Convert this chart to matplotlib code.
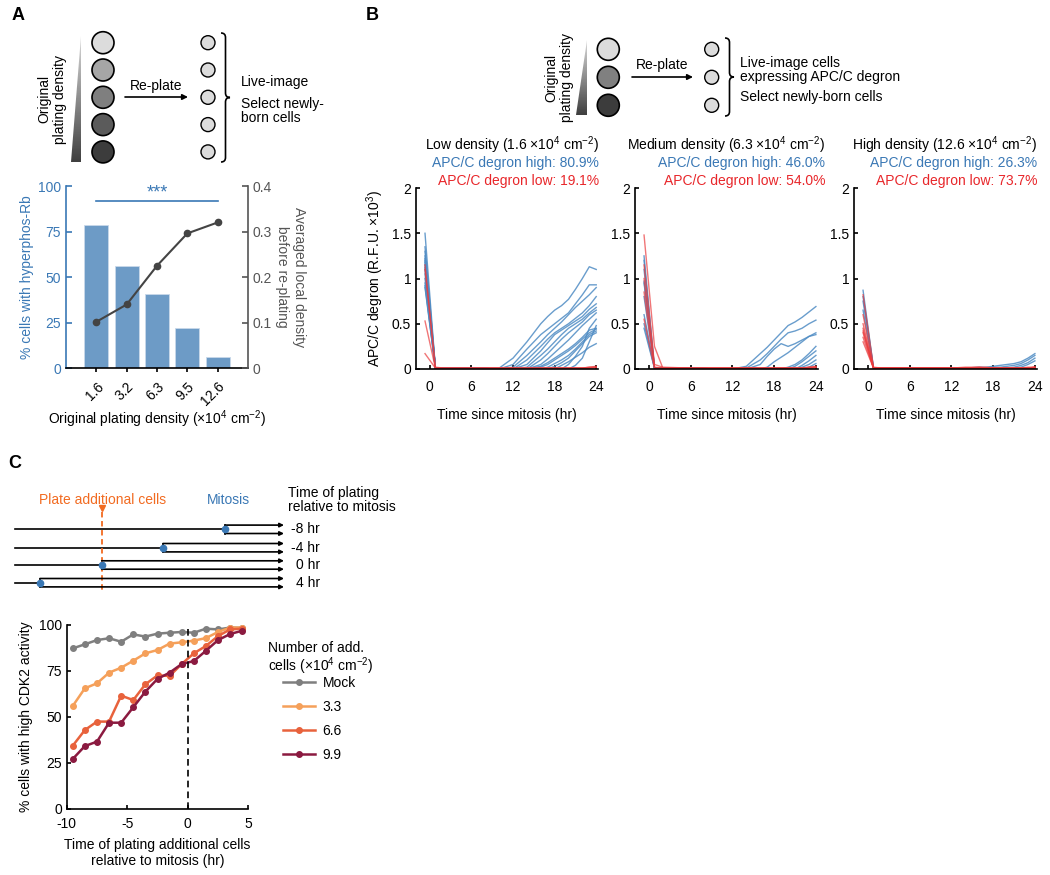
import numpy as np
import matplotlib.pyplot as plt
from matplotlib.patches import Circle, Polygon, PathPatch
from matplotlib.path import Path

plt.rcParams['font.family'] = ['Liberation Sans', 'DejaVu Sans']
plt.rcParams['mathtext.fontset'] = 'custom'
plt.rcParams['mathtext.rm'] = 'Liberation Sans'
plt.rcParams['mathtext.default'] = 'regular'
plt.rcParams['axes.unicode_minus'] = False
plt.rcParams['font.size'] = 10
plt.rcParams['axes.linewidth'] = 1.2

FS = 10

# ---- panel A data ----
densities = ['1.6', '3.2', '6.3', '9.5', '12.6']
pct_hyperphos = [78.6, 56.3, 40.6, 21.9, 6.2]
local_density = [0.102, 0.140, 0.225, 0.296, 0.320]

# ---- panel B data (APC/C degron traces, R.F.U. x10^3) ----
t_hr = [-0.7, 0.8, 2, 6, 10, 12, 14, 16, 17, 18, 19, 20, 21, 22, 23, 24]

low_high = [
    [1.50, 0.01, 0.01, 0.01, 0.01, 0.12, 0.30, 0.50, 0.58, 0.65, 0.70, 0.77, 0.88, 1.00, 1.13, 1.10],
    [1.35, 0.01, 0.01, 0.01, 0.00, 0.05, 0.22, 0.38, 0.44, 0.50, 0.56, 0.62, 0.72, 0.82, 0.93, 0.93],
    [1.20, 0.01, 0.01, 0.01, 0.00, 0.02, 0.15, 0.30, 0.38, 0.45, 0.52, 0.60, 0.68, 0.75, 0.82, 0.90],
    [1.10, 0.01, 0.01, 0.01, 0.00, 0.00, 0.10, 0.25, 0.33, 0.40, 0.45, 0.50, 0.56, 0.62, 0.70, 0.80],
    [0.95, 0.01, 0.01, 0.01, 0.00, 0.00, 0.05, 0.20, 0.29, 0.38, 0.43, 0.48, 0.53, 0.58, 0.66, 0.72],
    [0.90, 0.01, 0.01, 0.01, 0.00, 0.00, 0.02, 0.15, 0.22, 0.30, 0.38, 0.45, 0.50, 0.55, 0.62, 0.68],
    [1.25, 0.01, 0.01, 0.01, 0.00, 0.00, 0.00, 0.10, 0.17, 0.25, 0.33, 0.40, 0.46, 0.52, 0.60, 0.65],
    [1.05, 0.01, 0.01, 0.01, 0.00, 0.00, 0.00, 0.05, 0.11, 0.18, 0.25, 0.32, 0.40, 0.48, 0.55, 0.62],
    [1.15, 0.01, 0.01, 0.01, 0.00, 0.00, 0.00, 0.03, 0.07, 0.12, 0.17, 0.22, 0.28, 0.35, 0.43, 0.45],
    [1.00, 0.01, 0.01, 0.01, 0.00, 0.00, 0.00, 0.02, 0.05, 0.10, 0.15, 0.20, 0.26, 0.33, 0.40, 0.44],
    [1.30, 0.01, 0.01, 0.01, 0.00, 0.00, 0.00, 0.00, 0.02, 0.06, 0.10, 0.15, 0.22, 0.30, 0.38, 0.42],
    [0.92, 0.01, 0.01, 0.01, 0.00, 0.00, 0.00, 0.00, 0.00, 0.03, 0.07, 0.12, 0.20, 0.28, 0.36, 0.40],
    [1.18, 0.01, 0.01, 0.01, 0.00, 0.00, 0.00, 0.00, 0.00, 0.00, 0.04, 0.08, 0.13, 0.18, 0.24, 0.28],
    [1.22, 0.01, 0.01, 0.01, 0.00, 0.00, 0.00, 0.00, 0.00, 0.00, 0.00, 0.05, 0.14, 0.25, 0.45, 0.55],
    [1.12, 0.01, 0.01, 0.01, 0.00, 0.00, 0.00, 0.00, 0.00, 0.00, 0.00, 0.00, 0.04, 0.12, 0.30, 0.48],
]
low_low = [
    [1.15, 0.01, 0.01, 0.01, 0.01, 0.01, 0.01, 0.01, 0.01, 0.01, 0.01, 0.01, 0.01, 0.01, 0.02, 0.03],
    [1.10, 0.02, 0.01, 0.01, 0.01, 0.01, 0.01, 0.01, 0.01, 0.01, 0.01, 0.01, 0.01, 0.01, 0.01, 0.02],
    [0.53, 0.01, 0.01, 0.01, 0.01, 0.01, 0.01, 0.01, 0.01, 0.01, 0.01, 0.01, 0.01, 0.01, 0.01, 0.01],
    [0.17, 0.01, 0.01, 0.01, 0.01, 0.01, 0.01, 0.01, 0.01, 0.01, 0.01, 0.01, 0.01, 0.01, 0.02, 0.02],
]
med_high = [
    [1.25, 0.01, 0.01, 0.01, 0.00, 0.00, 0.03, 0.17, 0.24, 0.32, 0.40, 0.48, 0.52, 0.57, 0.63, 0.69],
    [1.20, 0.01, 0.01, 0.01, 0.00, 0.00, 0.01, 0.10, 0.17, 0.25, 0.33, 0.40, 0.42, 0.45, 0.50, 0.54],
    [0.97, 0.01, 0.01, 0.01, 0.00, 0.00, 0.00, 0.05, 0.14, 0.22, 0.28, 0.25, 0.28, 0.32, 0.36, 0.38],
    [0.95, 0.01, 0.01, 0.01, 0.00, 0.00, 0.00, 0.00, 0.02, 0.08, 0.13, 0.18, 0.24, 0.30, 0.36, 0.40],
    [0.50, 0.01, 0.01, 0.01, 0.00, 0.00, 0.00, 0.00, 0.00, 0.00, 0.00, 0.02, 0.05, 0.10, 0.17, 0.25],
    [0.45, 0.01, 0.01, 0.01, 0.00, 0.00, 0.00, 0.00, 0.00, 0.00, 0.00, 0.00, 0.03, 0.08, 0.14, 0.20],
    [1.10, 0.01, 0.01, 0.01, 0.00, 0.00, 0.00, 0.00, 0.00, 0.00, 0.00, 0.00, 0.00, 0.04, 0.09, 0.15],
    [0.80, 0.01, 0.01, 0.01, 0.00, 0.00, 0.00, 0.00, 0.00, 0.00, 0.00, 0.00, 0.00, 0.02, 0.05, 0.10],
    [0.60, 0.01, 0.01, 0.01, 0.00, 0.00, 0.00, 0.00, 0.00, 0.00, 0.00, 0.00, 0.00, 0.00, 0.02, 0.06],
]
med_low = [
    [1.48, 0.25, 0.01, 0.01, 0.01, 0.01, 0.01, 0.01, 0.01, 0.01, 0.01, 0.01, 0.01, 0.01, 0.02, 0.03],
    [1.15, 0.05, 0.02, 0.01, 0.01, 0.01, 0.01, 0.01, 0.01, 0.01, 0.01, 0.01, 0.01, 0.01, 0.01, 0.02],
    [0.85, 0.01, 0.01, 0.01, 0.01, 0.01, 0.01, 0.01, 0.01, 0.01, 0.01, 0.01, 0.01, 0.01, 0.01, 0.02],
    [0.55, 0.01, 0.01, 0.01, 0.01, 0.01, 0.01, 0.01, 0.01, 0.01, 0.01, 0.01, 0.01, 0.01, 0.01, 0.01],
    [1.00, 0.02, 0.01, 0.01, 0.01, 0.01, 0.01, 0.01, 0.01, 0.01, 0.01, 0.01, 0.01, 0.01, 0.02, 0.02],
]
dense_high = [
    [0.87, 0.01, 0.01, 0.01, 0.01, 0.01, 0.01, 0.02, 0.02, 0.03, 0.04, 0.05, 0.06, 0.08, 0.12, 0.17],
    [0.80, 0.01, 0.01, 0.01, 0.01, 0.01, 0.01, 0.01, 0.01, 0.02, 0.02, 0.03, 0.04, 0.06, 0.10, 0.15],
    [0.65, 0.01, 0.01, 0.01, 0.01, 0.01, 0.01, 0.01, 0.01, 0.01, 0.01, 0.01, 0.02, 0.04, 0.07, 0.12],
    [0.75, 0.01, 0.01, 0.01, 0.01, 0.01, 0.01, 0.01, 0.01, 0.01, 0.01, 0.01, 0.01, 0.02, 0.05, 0.09],
]
dense_low = [
    [0.82, 0.02, 0.01, 0.01, 0.01, 0.01, 0.02, 0.02, 0.02, 0.01, 0.01, 0.01, 0.01, 0.01, 0.01, 0.02],
    [0.45, 0.01, 0.01, 0.01, 0.01, 0.01, 0.01, 0.02, 0.01, 0.01, 0.01, 0.01, 0.01, 0.01, 0.01, 0.01],
    [0.42, 0.01, 0.01, 0.01, 0.01, 0.01, 0.01, 0.01, 0.01, 0.01, 0.01, 0.01, 0.01, 0.01, 0.02, 0.02],
    [0.40, 0.01, 0.01, 0.01, 0.01, 0.01, 0.01, 0.01, 0.01, 0.01, 0.01, 0.01, 0.01, 0.01, 0.01, 0.01],
    [0.35, 0.01, 0.01, 0.01, 0.01, 0.01, 0.01, 0.01, 0.01, 0.01, 0.01, 0.01, 0.01, 0.01, 0.01, 0.02],
    [0.30, 0.01, 0.01, 0.01, 0.01, 0.01, 0.01, 0.01, 0.01, 0.01, 0.01, 0.01, 0.01, 0.01, 0.01, 0.01],
    [0.60, 0.01, 0.01, 0.01, 0.01, 0.01, 0.01, 0.01, 0.01, 0.01, 0.01, 0.01, 0.01, 0.01, 0.01, 0.02],
    [0.50, 0.01, 0.01, 0.01, 0.01, 0.01, 0.01, 0.01, 0.01, 0.01, 0.01, 0.01, 0.01, 0.01, 0.01, 0.01],
]
panel_titles = ['Low density (1.6 ×10$^4$ cm$^{-2}$)',
                'Medium density (6.3 ×10$^4$ cm$^{-2}$)',
                'High density (12.6 ×10$^4$ cm$^{-2}$)']
pct_high = ['80.9%', '46.0%', '26.3%']
pct_low = ['19.1%', '54.0%', '73.7%']

# ---- panel C data ----
plating_time = [-9.5, -8.5, -7.5, -6.5, -5.5, -4.5, -3.5, -2.5, -1.5, -0.5, 0.5, 1.5, 2.5, 3.5, 4.5]
cdk2_mock = [87.3, 89.5, 91.8, 92.8, 90.9, 94.9, 93.7, 95.3, 95.8, 96.2, 95.8, 98.0, 97.6, 98.6, 98.4]
cdk2_33 = [56.0, 65.6, 68.3, 74.1, 76.8, 80.6, 84.6, 86.4, 89.9, 90.6, 91.5, 92.9, 96.2, 98.6, 98.6]
cdk2_66 = [34.4, 42.9, 47.5, 47.5, 61.6, 59.2, 67.8, 72.6, 72.3, 78.8, 84.6, 88.6, 94.0, 97.6, 98.0]
cdk2_99 = [27.2, 34.2, 36.6, 46.9, 46.9, 55.3, 63.8, 70.7, 74.1, 78.8, 80.4, 86.0, 91.8, 95.1, 96.9]
cdk2_labels = ['Mock', '3.3', '6.6', '9.9']
shift_labels = ['-8 hr', '-4 hr', '0 hr', '4 hr']
mitosis_x = [225, 163, 101.7, 40]   # schematic positions of mitosis

BLUE = '#3a78b5'
RED = '#e8262a'
ORANGE = '#f26b21'
W, H = 1050, 875


def box(l, t, r, b):
    return [l / W, 1 - b / H, (r - l) / W, (b - t) / H]


def fxy(x, y):
    return x / W, 1 - y / H


def brace(ax, x, y0, y1, w):
    ym = (y0 + y1) / 2
    h = w / 2
    verts = [(x, y0), (x + h, y0), (x + h, y0 + h), (x + h, ym - h),
             (x + h, ym), (x + w, ym), (x + h, ym), (x + h, ym + h),
             (x + h, y1 - h), (x + h, y1), (x, y1)]
    codes = [Path.MOVETO, Path.CURVE3, Path.CURVE3, Path.LINETO,
             Path.CURVE3, Path.CURVE3, Path.CURVE3, Path.CURVE3,
             Path.LINETO, Path.CURVE3, Path.CURVE3]
    ax.add_patch(PathPatch(Path(verts, codes), fill=False, lw=1.2, ec='k'))


def arrow(ax, x0, y0, x1, y1, ms=8):
    ax.annotate('', xy=(x1, y1), xytext=(x0, y0),
                arrowprops=dict(arrowstyle='-|>', mutation_scale=ms, lw=1.2,
                                color='k', shrinkA=0, shrinkB=0))


def gradient_wedge(ax, pts):
    poly = Polygon(pts, closed=True, fc='none', ec='none')
    ax.add_patch(poly)
    xs = [p[0] for p in pts]
    ys = [p[1] for p in pts]
    im = ax.imshow(np.linspace(0.85, 0.25, 100).reshape(-1, 1), cmap='gray',
                   vmin=0, vmax=1, extent=(min(xs), max(xs), max(ys), min(ys)),
                   aspect='auto')
    im.set_clip_path(poly)


fig = plt.figure(figsize=(10.5, 8.75), dpi=100)

# overlay axis in pixel coordinates for schematics
ax0 = fig.add_axes([0, 0, 1, 1])
ax0.patch.set_visible(False)

# ---------- schematic A ----------
gradient_wedge(ax0, [(71, 162), (81, 162), (81, 36)])
ax0.text(52, 99, 'Original\nplating density', rotation=90, ha='center', va='center', fontsize=FS)
big_grays = ['#dcdcdc', '#a6a6a6', '#7f7f7f', '#5b5b5b', '#3c3c3c']
for i, c in enumerate(big_grays):
    yy = 42.7 + i * 27.3
    ax0.add_patch(Circle((103, yy), 11, fc=c, ec='k', lw=1.2))
    ax0.add_patch(Circle((208, yy), 7, fc='#dcdcdc', ec='k', lw=1.0))
arrow(ax0, 125, 97, 188, 97)
ax0.text(156, 86, 'Re-plate', ha='center', va='center', fontsize=FS)
brace(ax0, 221, 33, 162, 9)
ax0.text(241, 82, 'Live-image', va='center', fontsize=FS)
ax0.text(241, 104, 'Select newly-', va='center', fontsize=FS)
ax0.text(241, 118, 'born cells', va='center', fontsize=FS)

# ---------- schematic B ----------
gradient_wedge(ax0, [(576, 115), (587, 115), (587, 40)])
ax0.text(559, 78, 'Original\nplating density', rotation=90, ha='center', va='center', fontsize=FS)
for i, c in enumerate(['#dcdcdc', '#808080', '#3c3c3c']):
    yy = 49.3 + i * 28
    ax0.add_patch(Circle((608.3, yy), 11, fc=c, ec='k', lw=1.2))
    ax0.add_patch(Circle((711.7, yy), 7, fc='#dcdcdc', ec='k', lw=1.0))
arrow(ax0, 632, 77, 693, 77)
ax0.text(662, 65, 'Re-plate', ha='center', va='center', fontsize=FS)
brace(ax0, 725, 38, 116, 9)
ax0.text(740, 63, 'Live-image cells', va='center', fontsize=FS)
ax0.text(740, 77, 'expressing APC/C degron', va='center', fontsize=FS)
ax0.text(740, 97, 'Select newly-born cells', va='center', fontsize=FS)

# ---------- schematic C ----------
rows_y = [529.3, 547.7, 565, 582.7]
for yy, sx, lab in zip(rows_y, mitosis_x, shift_labels):
    ax0.plot([15, sx], [yy, yy], color='k', lw=1.2)
    ax0.plot([sx, sx], [yy - 4.2, yy + 4.2], color='k', lw=1.2)
    arrow(ax0, sx, yy - 4.2, 284, yy - 4.2, ms=6)
    arrow(ax0, sx, yy + 4.2, 284, yy + 4.2, ms=6)
    ax0.plot(sx, yy, 'o', color=BLUE, ms=4.5, zorder=5)
    ax0.text(320, yy, lab, ha='right', va='center', fontsize=FS)
ax0.plot([101.7, 101.7], [512, 592], color=ORANGE, lw=1.3, ls=(0, (3, 2)))
ax0.plot(101.7, 508, 'v', color=ORANGE, ms=5)
ax0.text(103, 500, 'Plate additional cells', color=ORANGE, ha='center', va='center', fontsize=FS)
ax0.text(228, 500, 'Mitosis', color=BLUE, ha='center', va='center', fontsize=FS)
ax0.text(288, 493, 'Time of plating', va='center', fontsize=FS)
ax0.text(288, 507, 'relative to mitosis', va='center', fontsize=FS)

ax0.set_xlim(0, W)
ax0.set_ylim(H, 0)
ax0.axis('off')

# panel letters
fig.text(*fxy(12, 15), 'A', fontsize=13, fontweight='bold', va='center')
fig.text(*fxy(366, 15), 'B', fontsize=13, fontweight='bold', va='center')
fig.text(*fxy(8, 463), 'C', fontsize=13, fontweight='bold', va='center')

# ---------- panel A chart ----------
axA = fig.add_axes(box(66, 186, 248, 368.3))
xpos = np.arange(len(densities))
axA.bar(xpos, pct_hyperphos, width=0.8, color='#6d9bc6', edgecolor='#c9d9ea', lw=0.6)
axA.set_xlim(-1, 5)
axA.set_ylim(0, 100)
axA.set_yticks([0, 25, 50, 75, 100])
axA.set_xticks(xpos)
axA.set_xticklabels(densities, rotation=45, ha='right', rotation_mode='anchor')
axA.tick_params(axis='y', direction='in', colors=BLUE, length=4, width=1.2, labelsize=FS)
axA.tick_params(axis='x', direction='out', length=3, width=1.2, labelsize=FS, pad=5)
axA.spines['left'].set_color(BLUE)
axA.spines['top'].set_visible(False)
axA.spines['right'].set_visible(False)
axA.set_ylabel('% cells with hyperphos-Rb', color=BLUE, fontsize=FS, labelpad=3)
axA.set_xlabel('Original plating density (×10$^4$ cm$^{-2}$)', fontsize=FS, labelpad=0)
axA.plot([0, 4], [92, 92], color=BLUE, lw=1.2)
axA.text(2, 91.5, '***', color=BLUE, ha='center', va='bottom', fontsize=13)

axA2 = axA.twinx()
axA2.plot(xpos, local_density, color='#444444', lw=1.5, marker='o', ms=4.5)
axA2.set_ylim(0, 0.4)
axA2.set_yticks([0, 0.1, 0.2, 0.3, 0.4])
axA2.set_yticklabels(['0', '0.1', '0.2', '0.3', '0.4'])
axA2.tick_params(axis='y', direction='in', colors='#555555', length=4, width=1.2, labelsize=FS)
axA2.spines['right'].set_color('#555555')
axA2.spines['left'].set_visible(False)
axA2.spines['top'].set_visible(False)
axA2.spines['bottom'].set_visible(False)
axA2.set_ylabel('Averaged local density\nbefore re-plating', color='#555555', rotation=270,
                fontsize=FS, labelpad=24)

# ---------- panel B charts ----------
b_boxes = [(416, 188, 598.3, 369), (635, 188, 818, 369), (854, 188, 1037, 369)]
b_sets = [(low_high, low_low), (med_high, med_low), (dense_high, dense_low)]
b_title_right = [599, 825, 1037]
for k in range(3):
    ax = fig.add_axes(box(*b_boxes[k]))
    hi, lo = b_sets[k]
    for tr in hi:
        ax.plot(t_hr, tr, color='#4f8cc4', lw=1.0, alpha=0.85)
    for tr in lo:
        ax.plot(t_hr, tr, color='#ea3b3d', lw=1.0, alpha=0.7)
    ax.set_xlim(-2, 24.3)
    ax.set_ylim(0, 2)
    ax.set_xticks([0, 6, 12, 18, 24])
    ax.set_yticks([0, 0.5, 1, 1.5, 2])
    ax.set_yticklabels(['0', '0.5', '1', '1.5', '2'])
    ax.tick_params(direction='in', length=3, width=1.2, labelsize=FS)
    ax.tick_params(axis='x', pad=8)
    ax.spines['top'].set_visible(False)
    ax.spines['right'].set_visible(False)
    ax.set_xlabel('Time since mitosis (hr)', fontsize=FS, labelpad=10)
    if k == 0:
        ax.set_ylabel('APC/C degron (R.F.U. ×10$^3$)', fontsize=FS, labelpad=4)
    xr = b_title_right[k]
    fig.text(*fxy(xr, 145), panel_titles[k], ha='right', va='center', fontsize=FS)
    fig.text(*fxy(xr, 163), 'APC/C degron high: ' + pct_high[k], color=BLUE,
             ha='right', va='center', fontsize=FS)
    fig.text(*fxy(xr, 181), 'APC/C degron low: ' + pct_low[k], color=RED,
             ha='right', va='center', fontsize=FS)

# ---------- panel C chart ----------
axC = fig.add_axes(box(66.7, 625, 248.3, 809))
c_series = [cdk2_mock, cdk2_33, cdk2_66, cdk2_99]
c_colors = ['#7f7f7f', '#f5a05a', '#e8623c', '#8b1a40']
handles = []
for vals, col, lab in zip(c_series, c_colors, cdk2_labels):
    ln, = axC.plot(plating_time, vals, color=col, lw=1.8, marker='o', ms=4, label=lab)
    handles.append(ln)
axC.axvline(0, color='k', lw=1.2, ls=(0, (4, 2.5)))
axC.set_xlim(-10, 5)
axC.set_ylim(0, 100)
axC.set_xticks([-10, -5, 0, 5])
axC.set_yticks([0, 25, 50, 75, 100])
axC.tick_params(direction='in', length=3, width=1.2, labelsize=FS)
axC.tick_params(axis='x', pad=6)
axC.spines['top'].set_visible(False)
axC.spines['right'].set_visible(False)
axC.set_ylabel('% cells with high CDK2 activity', fontsize=FS, labelpad=4)
axC.set_xlabel('Time of plating additional cells\nrelative to mitosis (hr)', fontsize=FS, labelpad=5)

fig.text(*fxy(268, 641), 'Number of add.\ncells (×10$^4$ cm$^{-2}$)', va='top',
         fontsize=FS, linespacing=1.05)
fig.legend(handles=handles, labels=cdk2_labels, loc='upper left',
           bbox_to_anchor=fxy(283, 676), frameon=False, borderpad=0,
           borderaxespad=0, handlelength=2.3, handletextpad=0.55,
           labelspacing=0.72, fontsize=FS)

fig.savefig('out.png', dpi=100)
